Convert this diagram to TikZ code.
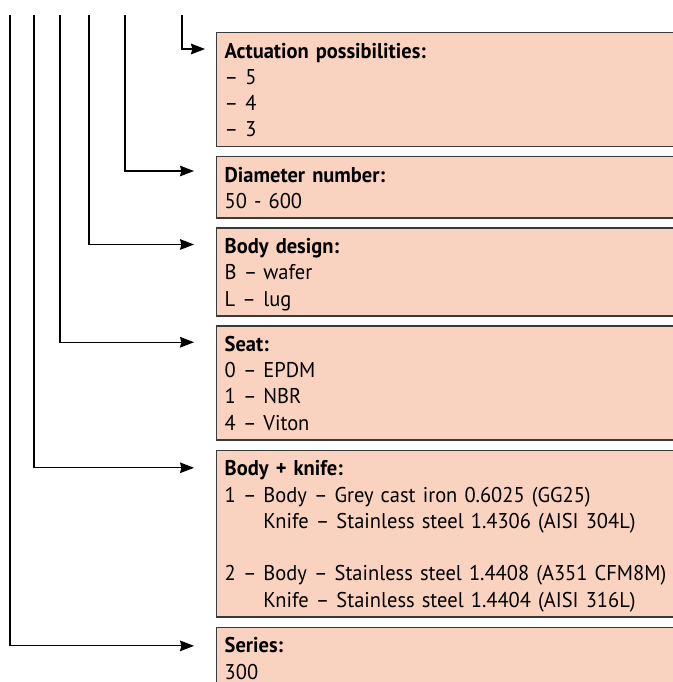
\documentclass[tikz,border=0pt]{standalone}
\usepackage{fontspec}
\setmainfont{PT Sans}[WordSpace=0.75,FakeStretch=0.96]
\usetikzlibrary{arrows.meta,positioning}
\definecolor{boxfill}{RGB}{249,210,192}
\definecolor{boxline}{RGB}{58,58,58}
\def\boxhead#1{\rule{0pt}{17.5pt}\textbf{#1}}

\begin{document}
\begin{tikzpicture}[x=0.75pt,y=-0.75pt,
	codebox/.style={draw=boxline,line width=1.1pt,fill=boxfill,anchor=north west,
		inner xsep=6pt,inner ysep=1.5pt,text width=480pt,align=left,
		font=\fontsize{16}{19.7}\selectfont},
	feed/.style={line width=0.8pt,-{Stealth[length=10.5pt,width=8pt,inset=1pt]}}]
	\useasboundingbox (0,0) rectangle (673,682);
	\clip (0,0) rectangle (673,682);
	\node[codebox] (actuation) at (216,32)
		{\begin{tabular}{@{}l@{}}\boxhead{Actuation possibilities:}\\ – 5\\ – 4\\ – 3\end{tabular}};
	\node[codebox,below=6.4pt of actuation.south west,anchor=north west] (diameter)
		{\begin{tabular}{@{}l@{}}\boxhead{Diameter number:}\\ 50 - 600\end{tabular}};
	\node[codebox,below=6.4pt of diameter.south west,anchor=north west] (design)
		{\begin{tabular}{@{}p{29pt}@{}l@{}}\multicolumn{2}{@{}l@{}}{\boxhead{Body design:}}\\
			B – & wafer\\ L – & lug\end{tabular}};
	\node[codebox,below=6.4pt of design.south west,anchor=north west] (seat)
		{\begin{tabular}{@{}p{29pt}@{}l@{}}\multicolumn{2}{@{}l@{}}{\boxhead{Seat:}}\\
			0 – & EPDM\\ 1 – & NBR\\ 4 – & Viton\end{tabular}};
	\node[codebox,below=6.8pt of seat.south west,anchor=north west] (material)
		{\begin{tabular}{@{}p{29pt}@{}l@{}}\multicolumn{2}{@{}l@{}}{\boxhead{Body + knife:}}\\
			1 – & Body – Grey cast iron 0.6025 (GG25)\\
			& Knife – Stainless steel 1.4306 (AISI 304L)\\
			& \\
			2 – & Body – Stainless steel 1.4408 (A351 CFM8M)\\
			& Knife – Stainless steel 1.4404 (AISI 316L)\end{tabular}};
	\node[codebox,below=6.8pt of material.south west,anchor=north west] (series)
		{\begin{tabular}{@{}l@{}}\boxhead{Series:}\\ 300\end{tabular}};
	\coordinate (pa) at (182,15);
	\coordinate (pd) at (125,15);
	\coordinate (pb) at (89,15);
	\coordinate (ps) at (60,15);
	\coordinate (pm) at (34,15);
	\coordinate (pr) at (10,15);
	\draw[feed] (pa) |- ([shift={(-11,17)}]actuation.north west);
	\draw[feed] (pd) |- ([shift={(-22,15)}]diameter.north west);
	\draw[feed] (pb) |- ([shift={(-22,17)}]design.north west);
	\draw[feed] (ps) |- ([shift={(-22,17)}]seat.north west);
	\draw[feed] (pm) |- ([shift={(-22,18)}]material.north west);
	\draw[feed] (pr) |- ([shift={(-22,19)}]series.north west);
\end{tikzpicture}
\end{document}
